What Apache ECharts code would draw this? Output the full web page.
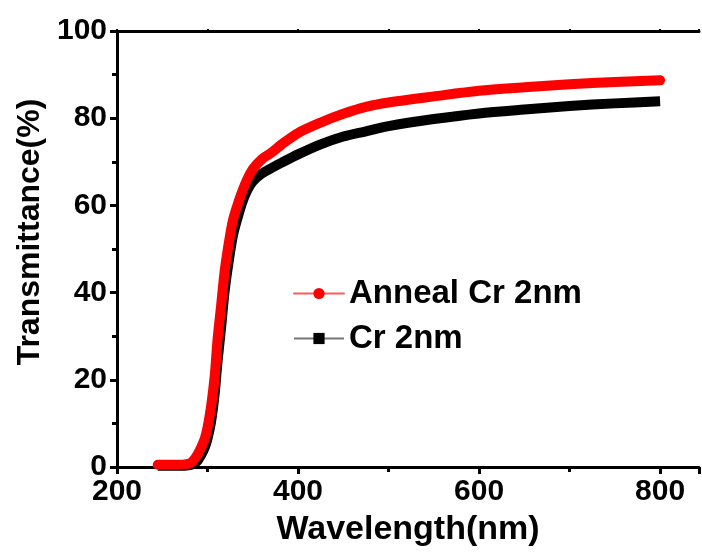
<!DOCTYPE html>
<html>
<head>
<meta charset="utf-8">
<script src="https://cdn.jsdelivr.net/npm/echarts@6/dist/echarts.min.js"></script>
<style>
  html, body { margin: 0; padding: 0; background: #fff; }
  #chart { width: 702px; height: 556px; }
</style>
</head>
<body>
<div id="chart"></div>
<script>
// wavelength (nm) sampled along the curves
const wavelength = [245, 260, 275, 282, 288, 293, 297, 300, 304, 308, 311, 315, 319, 324, 328, 333, 338, 344, 350, 360, 370, 382, 400, 425, 450, 475, 500, 550, 600, 650, 700, 750, 800];
// transmittance (%)
const annealCr2nm = [0.5, 0.5, 0.6, 1.0, 2.5, 4.5, 6.5, 9, 14, 21, 29, 37, 45, 52, 56.5, 60, 63, 66, 68.3, 70.6, 72, 74, 76.6, 79, 81, 82.6, 83.6, 85, 86.3, 87.1, 87.8, 88.3, 88.7];
const cr2nm = [0.3, 0.3, 0.3, 0.5, 1.2, 2.8, 4.5, 6.5, 10.5, 17, 24, 32, 40.5, 48, 53, 57, 60.5, 63.5, 65.5, 67.3, 68.5, 69.8, 71.7, 74, 75.8, 77, 78.2, 79.8, 81.1, 82, 82.8, 83.4, 83.9];
const xTicks = [200, 400, 600, 800];
const yTicks = [0, 20, 40, 60, 80, 100];

const pairs = (ys) => wavelength.map((x, i) => [x, ys[i]]);
const font = "'Liberation Sans', Arial, sans-serif";
const xMin = 200, xMax = 843;

const chart = echarts.init(document.getElementById("chart"));

const axisLine = { show: true, lineStyle: { color: "#000", width: 3 } };

chart.setOption({
  animation: false,
  backgroundColor: "#fff",
  grid: { left: 117, right: 0, top: 31, bottom: 89 },
  legend: {
    orient: "vertical",
    left: 288,
    top: 272,
    itemWidth: 50,
    itemHeight: 14,
    itemGap: 12,
    textStyle: { fontFamily: font, fontWeight: "bold", fontSize: 33, color: "#000", lineHeight: 32 },
    data: [
      { name: "Anneal Cr 2nm", itemStyle: { color: "#ff0000" }, lineStyle: { color: "#ff5a5a", width: 2 } },
      { name: "Cr 2nm", itemStyle: { color: "#000" }, lineStyle: { color: "#777", width: 2 } }
    ]
  },
  xAxis: [
    {
      // labels and long ticks
      type: "value",
      min: xMin,
      max: xMax,
      interval: 200,
      name: "Wavelength(nm)",
      nameLocation: "middle",
      nameGap: 46,
      nameTextStyle: { fontFamily: font, fontWeight: "bold", fontSize: 34, color: "#000" },
      axisLine: axisLine,
      axisTick: { show: true, length: 7, lineStyle: { width: 3, color: "#000" } },
      axisLabel: {
        fontFamily: font, fontWeight: "bold", fontSize: 30, color: "#000", margin: 10,
        formatter: (v) => (xTicks.includes(v) ? String(v) : "")
      },
      splitLine: { show: false }
    },
    {
      // short ticks every 100
      type: "value",
      position: "bottom",
      min: xMin,
      max: xMax,
      interval: 100,
      axisLine: { show: false },
      axisTick: { show: true, length: 5, lineStyle: { width: 3, color: "#000" } },
      axisLabel: { show: false },
      splitLine: { show: false }
    },
    {
      type: "value",
      position: "top",
      min: xMin,
      max: xMax,
      interval: 100,
      axisLine: axisLine,
      axisTick: { show: true, length: 2, lineStyle: { width: 2, color: "#000" } },
      axisLabel: { show: false },
      splitLine: { show: false }
    }
  ],
  yAxis: {
    type: "value",
    min: 0,
    max: 100,
    interval: 20,
    name: "Transmittance(%)",
    nameLocation: "middle",
    nameGap: 71,
    nameTextStyle: { fontFamily: font, fontWeight: "bold", fontSize: 32, color: "#000", padding: [0, 0, 0, 34] },
    axisLine: axisLine,
    axisTick: { show: true, length: 7, lineStyle: { width: 3, color: "#000" } },
    minorTick: { show: true, splitNumber: 2, length: 5, lineStyle: { width: 3, color: "#000" } },
    axisLabel: {
      fontFamily: font, fontWeight: "bold", fontSize: 30, color: "#000", margin: 10,
      formatter: (v) => (yTicks.includes(v) ? String(v) : "")
    },
    splitLine: { show: false }
  },
  series: [
    {
      name: "Cr 2nm",
      type: "line",
      data: pairs(cr2nm),
      smooth: 0.3,
      showSymbol: false,
      symbol: "rect",
      symbolSize: 12,
      color: "#000",
      lineStyle: { color: "#000", width: 10, cap: "butt", join: "round" },
      z: 2
    },
    {
      name: "Anneal Cr 2nm",
      type: "line",
      data: pairs(annealCr2nm),
      smooth: 0.3,
      showSymbol: false,
      symbol: "circle",
      symbolSize: 14,
      color: "#ff0000",
      lineStyle: { color: "#ff0000", width: 10, cap: "round", join: "round" },
      z: 3
    }
  ]
});

window.onresize = function () {
  chart.resize();
};
</script>
</body>
</html>
